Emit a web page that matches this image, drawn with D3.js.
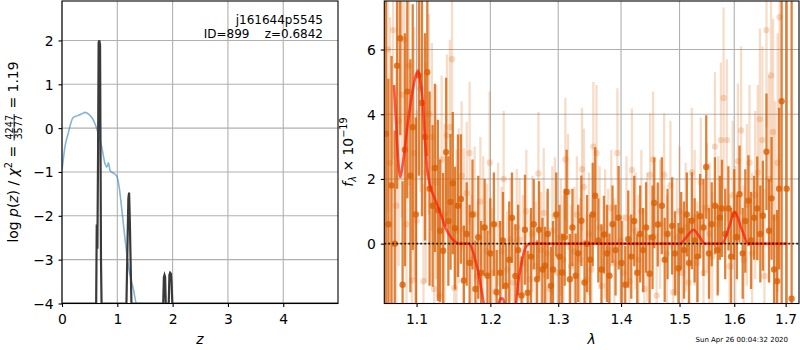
<!DOCTYPE html>
<html>
<head>
<meta charset="utf-8">
<script src="https://cdn.jsdelivr.net/npm/d3@7"></script>
<style>
  body { margin: 0; background: #fff; }
  svg text { font-family: "DejaVu Sans", sans-serif; fill: #000; }
</style>
</head>
<body>
<svg id="fig" width="800" height="350"></svg>
<script>
// ---- left panel: redshift PDF ----
const zTicks = [0, 1, 2, 3, 4];
const lnpTicks = [-4, -3, -2, -1, 0, 1, 2];

// log p(z), values below -4 fall off the axis
const pzZ   = [0, 0.600, 0.618, 0.628, 0.640, 0.652, 0.662, 0.675, 0.688, 0.697, 0.705, 0.715, 1.165, 1.185, 1.200, 1.213, 1.226, 1.240, 1.255, 1.830, 1.842, 1.853, 1.864, 1.876, 1.930, 1.942, 1.955, 1.968, 1.980, 1.995, 4.99];
const pzLog = [-8, -8, -4.2, -2.2, -2.75, -0.6, 1.95, 2.0, 1.9, -0.6, -3.0, -8, -8, -2.6, -1.6, -1.47, -2.1, -3.0, -8, -8, -3.4, -3.35, -3.4, -8, -8, -3.35, -3.3, -3.32, -3.5, -8, -8];

// chi2-based curve (blue)
const chiZ   = [0.0, 0.02, 0.05, 0.11, 0.20, 0.27, 0.35, 0.42, 0.48, 0.55, 0.60, 0.66, 0.72, 0.78, 0.81, 0.84, 0.87, 0.92, 0.99, 1.04, 1.08, 1.14, 1.20, 1.29, 1.35, 1.45];
const chiLog = [-0.95, -0.75, -0.45, -0.13, 0.24, 0.28, 0.32, 0.36, 0.32, 0.22, 0.09, -0.14, -0.44, -0.82, -0.89, -0.79, -0.97, -1.02, -1.09, -1.4, -1.84, -2.53, -3.14, -3.67, -4.02, -4.6];

const objName = "j161644p5545";
const objInfo = "ID=899    z=0.6842";
const chiNum = "4247", chiDen = "3577", chiRed = "1.19";

// ---- right panel: 1D spectrum ----
const lamTicks = [1.1, 1.2, 1.3, 1.4, 1.5, 1.6, 1.7];
const fluxTicks = [0, 2, 4, 6];

// [wavelength (um), flux (1e-19), error]
const darkPts = [
  [1.061, 3.4, 5.5], [1.064, 0.6, 4.5], [1.068, 1.8, 4.0], [1.072, 0.0, 3.5], [1.075, 5.5, 3.8],
  [1.079, 6.35, 3.0], [1.082, -1.27, 3.2], [1.085, 2.9, 3.6], [1.088, 4.7, 3.3], [1.092, 2.1, 3.6],
  [1.095, 3.6, 3.8], [1.099, 0.9, 3.0], [1.103, 5.2, 3.1], [1.107, 4.35, 3.5], [1.111, 3.3, 3.2],
  [1.114, 5.3, 2.6], [1.117, 1.7, 3.0], [1.121, 1.17, 2.5], [1.124, 2.34, 2.6], [1.128, 1.03, 2.8],
  [1.131, 0.4, 2.2], [1.135, -0.22, 2.4], [1.139, 2.83, 2.3], [1.142, 0.7, 2.0], [1.145, 1.29, 2.1],
  [1.148, 1.87, 2.2], [1.151, 0.48, 1.9], [1.155, 1.17, 2.2], [1.159, 1.38, 2.0], [1.163, -1.14, 1.7],
  [1.167, 0.3, 1.6], [1.171, -0.6, 1.8], [1.175, 0.9, 1.7], [1.179, -1.4, 1.5], [1.183, 0.2, 1.9],
  [1.187, -0.9, 1.6], [1.192, 0.5, 1.5], [1.196, -0.99, 1.4], [1.200, -0.3, 1.7], [1.205, 0.6, 1.6],
  [1.209, -1.5, 1.3], [1.214, -0.9, 1.6], [1.218, 0.1, 1.5], [1.222, -1.3, 1.3], [1.227, -0.5, 1.8],
  [1.231, 0.8, 1.4], [1.236, -1.0, 1.6], [1.240, -0.2, 1.4], [1.245, -1.6, 1.2], [1.250, 0.43, 1.7],
  [1.254, -1.52, 1.3], [1.259, -0.4, 1.5], [1.263, 0.6, 1.4], [1.268, -1.1, 1.2], [1.271, 0.43, 1.5],
  [1.276, -0.8, 1.6], [1.280, -0.68, 1.2], [1.284, 0.3, 1.4], [1.289, -1.3, 1.2], [1.292, -0.8, 1.5],
  [1.297, 0.9, 1.3], [1.302, -0.4, 1.6], [1.306, -0.89, 1.2], [1.310, 0.2, 1.5], [1.313, 1.6, 1.3],
  [1.318, -1.1, 1.4], [1.322, 0.5, 1.2], [1.327, -0.99, 1.3], [1.331, -0.3, 1.5], [1.336, 0.71, 1.4],
  [1.341, -1.2, 1.3], [1.345, 0.0, 1.5], [1.350, -0.5, 1.4], [1.354, 0.9, 1.6], [1.358, 1.48, 1.5],
  [1.363, 0.1, 1.3], [1.368, -0.8, 1.4], [1.372, 0.28, 1.2], [1.377, -0.3, 1.5], [1.381, -0.99, 1.3],
  [1.386, 0.6, 1.2], [1.391, -0.2, 1.4], [1.396, 0.8, 1.6], [1.401, -0.6, 1.3], [1.407, -1.27, 1.2],
  [1.412, 0.14, 1.5], [1.417, -0.4, 1.3], [1.422, 0.7, 1.4], [1.427, -0.9, 1.2], [1.432, 0.3, 1.5],
  [1.437, -0.2, 1.3], [1.442, 0.5, 1.4], [1.448, -0.93, 1.2], [1.453, 0.2, 1.6], [1.456, 1.26, 1.4],
  [1.462, 0.59, 1.3], [1.469, 1.17, 1.5], [1.474, -0.5, 1.3], [1.479, 0.3, 1.4], [1.487, 0.55, 1.5],
  [1.492, -0.3, 1.3], [1.498, -0.76, 1.4], [1.503, 0.4, 1.2], [1.508, -0.2, 1.5], [1.513, 0.9, 1.3],
  [1.517, -0.6, 1.4], [1.522, 0.71, 1.5], [1.527, 0.1, 1.3], [1.532, -0.4, 1.4], [1.537, 0.85, 1.3],
  [1.543, 0.5, 1.5], [1.548, 2.37, 1.6], [1.553, -0.3, 1.4], [1.558, 0.6, 1.3], [1.564, 1.17, 1.5],
  [1.569, -0.2, 1.4], [1.573, 0.8, 1.3], [1.577, 1.09, 1.5], [1.583, 0.3, 1.4], [1.589, 1.09, 1.3],
  [1.594, -0.4, 1.5], [1.600, 0.9, 1.4], [1.605, 0.2, 1.3], [1.610, 1.53, 1.5], [1.616, -0.3, 1.4],
  [1.621, 0.7, 1.6], [1.627, 1.33, 1.4], [1.632, 0.1, 1.5], [1.638, 0.8, 1.3], [1.644, 1.09, 1.6],
  [1.650, 0.3, 1.5], [1.655, 0.86, 1.7], [1.662, 2.84, 1.8], [1.667, 0.4, 1.6], [1.672, 1.4, 1.9],
  [1.677, -0.8, 1.7], [1.683, -1.16, 2.2], [1.687, 1.7, 2.5], [1.692, 4.4, 8.0], [1.702, 1.7, 10],
  [1.712, -1.7, 12]
];

const lightPts = [
  [1.063, 6.0, 5.0], [1.066, 2.5, 4.5], [1.070, 6.6, 4.0], [1.074, 1.17, 4.2], [1.077, 3.8, 4.5],
  [1.081, 4.6, 3.8], [1.084, 6.3, 3.5], [1.087, 0.6, 3.5], [1.090, 5.5, 3.7], [1.094, -1.14, 3.2],
  [1.097, 2.8, 3.9], [1.100, 0.72, 3.4], [1.105, 4.8, 3.2], [1.109, -1.16, 3.0], [1.112, 2.2, 3.4],
  [1.116, 4.0, 3.1], [1.120, 3.3, 2.9], [1.123, -1.4, 2.8], [1.126, 1.9, 3.0], [1.130, -1.6, 2.6],
  [1.133, 2.6, 2.6], [1.137, 0.9, 2.8], [1.140, 3.35, 2.5], [1.144, 3.6, 2.7], [1.147, 5.7, 2.4],
  [1.150, -1.37, 2.6], [1.153, 0.4, 2.5], [1.156, 1.17, 2.4], [1.160, 2.1, 2.3], [1.163, 0.45, 2.5],
  [1.167, 1.56, 2.2], [1.171, 2.8, 2.2], [1.174, -0.5, 2.0], [1.178, 0.9, 2.1], [1.182, -1.0, 2.3],
  [1.186, 1.3, 2.0], [1.190, 0.5, 2.2], [1.195, -0.24, 2.1], [1.199, 2.5, 2.2], [1.203, -0.9, 2.0],
  [1.207, -1.47, 2.1], [1.211, 0.6, 1.9], [1.216, -0.24, 2.0], [1.219, 2.0, 2.1], [1.224, -0.8, 1.8],
  [1.229, 0.12, 1.9], [1.233, -1.2, 2.0], [1.238, 0.5, 1.8], [1.242, 0.12, 1.9], [1.247, -0.6, 2.1],
  [1.252, 1.0, 1.9], [1.257, -1.1, 2.0], [1.261, 0.3, 1.8], [1.266, -0.7, 2.0], [1.270, 2.17, 1.9],
  [1.274, -0.2, 1.8], [1.278, 0.95, 2.0], [1.283, -0.3, 1.9], [1.287, -1.4, 1.8], [1.291, 0.4, 2.0],
  [1.295, 0.86, 1.8], [1.299, -0.9, 1.9], [1.304, 0.2, 1.8], [1.308, -0.5, 2.0], [1.311, 2.6, 1.9],
  [1.315, 1.6, 1.8], [1.320, -0.7, 1.9], [1.325, -0.24, 2.0], [1.329, 0.9, 1.8], [1.334, -0.5, 1.9],
  [1.337, 2.3, 1.9], [1.340, 1.75, 1.8], [1.344, -1.1, 2.0], [1.348, 0.3, 1.9], [1.352, -0.8, 1.8],
  [1.355, 3.0, 2.0], [1.360, 2.8, 2.1], [1.365, 0.5, 1.9], [1.369, -1.3, 1.8], [1.374, 0.3, 2.0],
  [1.379, -0.2, 1.9], [1.384, 1.1, 1.8], [1.389, -0.6, 2.0], [1.394, 2.8, 2.0], [1.399, 0.1, 1.9],
  [1.404, -0.9, 1.8], [1.409, 0.8, 1.9], [1.414, -1.16, 2.0], [1.418, 2.28, 1.9], [1.424, 0.4, 1.8],
  [1.429, -0.5, 2.0], [1.434, 1.0, 1.9], [1.439, -1.4, 1.8], [1.444, 0.2, 2.0], [1.449, 2.13, 1.9],
  [1.454, 2.6, 2.1], [1.460, -1.6, 1.9], [1.466, 0.6, 2.0], [1.473, 2.13, 1.9], [1.478, -0.3, 1.8],
  [1.484, 1.8, 2.0], [1.489, -1.5, 1.9], [1.495, 0.2, 1.8], [1.500, 1.0, 2.0], [1.505, -0.9, 1.9],
  [1.511, 0.5, 2.0], [1.516, -1.2, 1.9], [1.522, 2.2, 2.0], [1.527, 0.8, 2.1], [1.532, -0.6, 1.9],
  [1.538, 1.9, 2.0], [1.543, -0.9, 2.1], [1.549, 1.1, 2.0], [1.554, 0.3, 2.2], [1.559, -0.4, 2.0],
  [1.564, 3.0, 2.3], [1.570, 0.6, 2.1], [1.575, 3.2, 2.4], [1.580, 4.5, 2.8], [1.586, 3.2, 2.5],
  [1.591, -0.7, 2.2], [1.597, 1.5, 2.3], [1.602, 0.2, 2.2], [1.607, 2.55, 2.4], [1.613, 3.5, 2.6],
  [1.618, -0.5, 2.3], [1.624, 1.2, 2.5], [1.629, 2.5, 2.4], [1.634, -0.3, 2.5], [1.640, 1.5, 2.6],
  [1.645, 2.2, 2.7], [1.649, 3.85, 2.8], [1.654, 3.2, 2.9], [1.658, -1.0, 2.7], [1.662, 6.6, 3.0],
  [1.667, 2.0, 3.2], [1.671, 5.2, 3.3], [1.675, 3.45, 3.5], [1.679, 0.8, 3.6], [1.684, 2.5, 4.0],
  [1.688, 7.0, 5.0]
];

// best-fit model (red)
const modelWave = [1.071, 1.074, 1.077, 1.079, 1.083, 1.088, 1.094, 1.099, 1.102, 1.105, 1.108, 1.111, 1.114, 1.118, 1.122, 1.127, 1.133, 1.138, 1.143, 1.150, 1.156, 1.170, 1.175, 1.180, 1.185, 1.190, 1.195, 1.208, 1.214, 1.218, 1.224, 1.236, 1.240, 1.244, 1.248, 1.252, 1.258, 1.501, 1.513, 1.525, 1.536, 1.546, 1.577, 1.590, 1.601, 1.614, 1.627, 1.703];
const modelFlux = [4.9, 3.6, 2.4, 2.05, 2.6, 3.6, 4.6, 5.2, 5.35, 5.0, 4.4, 3.2, 2.3, 1.75, 1.5, 1.2, 0.84, 0.5, 0.28, 0.08, 0.0, 0.0, -0.2, -0.6, -1.1, -1.75, -2.2, -2.2, -1.7, -1.7, -2.2, -2.0, -1.2, -0.7, -0.3, -0.08, 0.0, 0.0, 0.22, 0.43, 0.2, 0.0, 0.0, 0.5, 0.98, 0.45, 0.0, 0.0];

const stamp = "Sun Apr 26 00:04:32 2020";

// ---------------------------------------------------------------
const svg = d3.select("#fig");
const FS = 13.9;
const gridColor = "#b0b0b0";
const spec = "#d95f02";

const L = { x0: 62, x1: 338, y0: 1, y1: 303.5 };
const R = { x0: 384.3, x1: 799, y0: 1, y1: 303.5 };

const xz = d3.scaleLinear().domain([0, 4.99]).range([L.x0, L.x1]);
const yz = d3.scaleLinear().domain([-4, 2.9]).range([L.y1, L.y0]).clamp(true);
const xl = d3.scaleLog().domain([1.0589, 1.727]).range([R.x0, R.x1]);
const yf = d3.scaleLinear().domain([-1.85, 7.5]).range([R.y1, R.y0]);

const defs = svg.append("defs");
[["clipL", L], ["clipR", R]].forEach(([id, b]) => {
  defs.append("clipPath").attr("id", id).append("rect")
    .attr("x", b.x0).attr("y", b.y0).attr("width", b.x1 - b.x0).attr("height", b.y1 - b.y0);
});

function grid(b, xs, ys, xv, yv) {
  const g = svg.append("g").attr("stroke", gridColor).attr("stroke-width", 1.1);
  g.selectAll(".gx").data(xv).enter().append("line")
    .attr("x1", (d) => xs(d)).attr("x2", (d) => xs(d)).attr("y1", b.y0).attr("y2", b.y1);
  g.selectAll(".gy").data(yv).enter().append("line")
    .attr("x1", b.x0).attr("x2", b.x1).attr("y1", (d) => ys(d)).attr("y2", (d) => ys(d));
}

function axes(b, xs, ys, xv, yv, xfmt, yfmt) {
  const ax = svg.append("g").attr("transform", `translate(0,${b.y1})`)
    .call(d3.axisBottom(xs).tickValues(xv).tickSize(3.5).tickPadding(7).tickFormat(xfmt));
  const ay = svg.append("g").attr("transform", `translate(${b.x0},0)`)
    .call(d3.axisLeft(ys).tickValues(yv).tickSize(3.5).tickPadding(4.9).tickFormat(yfmt));
  [ax, ay].forEach((a) => {
    a.select(".domain").remove();
    a.selectAll("line").attr("stroke", "#000").attr("stroke-width", 1.1);
    a.selectAll("text").attr("font-size", FS).attr("font-family", "DejaVu Sans");
  });
  ay.selectAll("text").attr("dy", "0.36em");
  svg.append("rect").attr("x", b.x0).attr("y", b.y0)
    .attr("width", b.x1 - b.x0).attr("height", b.y1 - b.y0)
    .attr("fill", "none").attr("stroke", "#000").attr("stroke-width", 1.1);
}

// ---- left panel ----
grid(L, xz, yz, zTicks, lnpTicks);

const pL = svg.append("g").attr("clip-path", "url(#clipL)");
pL.append("path")
  .datum(d3.zip(chiZ, chiLog))
  .attr("fill", "none").attr("stroke", "#1f77b4").attr("stroke-opacity", 0.55).attr("stroke-width", 1.6)
  .attr("d", d3.line().x((d) => xz(d[0])).y((d) => yz(d[1])).curve(d3.curveMonotoneX));
pL.append("path")
  .datum(d3.zip(pzZ, pzLog))
  .attr("fill", "none").attr("stroke", "#3a3a3a").attr("stroke-width", 2.2)
  .attr("d", d3.line().x((d) => xz(d[0])).y((d) => yz(d[1])));

axes(L, xz, yz, zTicks, lnpTicks, d3.format("d"), d3.format("d"));

svg.append("text").attr("x", 323).attr("y", 24).attr("text-anchor", "end")
  .attr("font-size", 12).style("white-space", "pre").text(objName);
svg.append("text").attr("x", 323).attr("y", 38).attr("text-anchor", "end")
  .attr("font-size", 12).style("white-space", "pre").text(objInfo);

// ---- right panel ----
grid(R, xl, yf, lamTicks, fluxTicks);

const pR = svg.append("g").attr("clip-path", "url(#clipR)");

function errSeries(pts, alpha) {
  const g = pR.append("g");
  g.selectAll("line").data(pts).enter().append("line")
    .attr("x1", (d) => xl(d[0])).attr("x2", (d) => xl(d[0]))
    .attr("y1", (d) => yf(d[1] - d[2])).attr("y2", (d) => yf(d[1] + d[2]))
    .attr("stroke", spec).attr("stroke-opacity", alpha).attr("stroke-width", 2.3);
  g.selectAll("circle").data(pts).enter().append("circle")
    .attr("cx", (d) => xl(d[0])).attr("cy", (d) => yf(d[1])).attr("r", 3.2)
    .attr("fill", spec).attr("fill-opacity", alpha);
}
errSeries(lightPts, 0.22);
errSeries(darkPts, 0.78);

pR.append("path")
  .datum(d3.zip(modelWave, modelFlux))
  .attr("fill", "none").attr("stroke", "#ff1a0a").attr("stroke-opacity", 0.72).attr("stroke-width", 2.6)
  .attr("d", d3.line().x((d) => xl(d[0])).y((d) => yf(d[1])).curve(d3.curveMonotoneX));

pR.append("line")
  .attr("x1", R.x0).attr("x2", R.x1).attr("y1", yf(0)).attr("y2", yf(0))
  .attr("stroke", "#000").attr("stroke-opacity", 0.85).attr("stroke-width", 1.8)
  .attr("stroke-dasharray", "1.8,2.2");

axes(R, xl, yf, lamTicks, fluxTicks, d3.format(".1f"), d3.format("d"));

// ---- axis labels ----
svg.append("text").attr("x", (L.x0 + L.x1) / 2).attr("y", 344).attr("text-anchor", "middle")
  .attr("font-size", FS).attr("font-style", "italic").text("z");
svg.append("text").attr("x", (R.x0 + R.x1) / 2).attr("y", 344).attr("text-anchor", "middle")
  .attr("font-size", FS).attr("font-style", "italic").text("λ");

// left y label with stacked fraction
const yl = svg.append("g").attr("transform", "translate(17.5,152) rotate(-90)");
const inner = yl.append("g");
const t1 = inner.append("text").attr("font-size", FS).style("white-space", "pre");
t1.append("tspan").text("log ");
t1.append("tspan").attr("font-style", "italic").text("p");
t1.append("tspan").text("(");
t1.append("tspan").attr("font-style", "italic").text("z");
t1.append("tspan").text(") / ");
t1.append("tspan").attr("font-style", "italic").text("χ");
t1.append("tspan").attr("font-size", FS * 0.7).attr("dy", -5.5).text("2");
t1.append("tspan").attr("dy", 5.5).text(" = ");
const w1 = t1.node().getComputedTextLength();
const num = inner.append("text").attr("font-size", 9.7).attr("y", -4.6).text(chiNum);
const den = inner.append("text").attr("font-size", 9.7).attr("y", 4.6).text(chiDen);
const fw = Math.max(num.node().getComputedTextLength(), den.node().getComputedTextLength()) + 2;
num.attr("x", w1 + 1 + (fw - num.node().getComputedTextLength()) / 2);
den.attr("x", w1 + 1 + (fw - den.node().getComputedTextLength()) / 2);
inner.append("line").attr("x1", w1 + 1).attr("x2", w1 + 1 + fw)
  .attr("y1", -3.4).attr("y2", -3.4).attr("stroke", "#000").attr("stroke-width", 0.8);
const t2 = inner.append("text").attr("font-size", FS).attr("x", w1 + fw + 2)
  .style("white-space", "pre").text(" = " + chiRed);
const total = w1 + fw + 2 + t2.node().getComputedTextLength();
inner.attr("transform", `translate(${-total / 2},0)`);

// right y label
const yr = svg.append("text").attr("transform", "translate(352.5,152) rotate(-90)")
  .attr("text-anchor", "middle").attr("font-size", FS).style("white-space", "pre");
yr.append("tspan").attr("font-style", "italic").text("f");
yr.append("tspan").attr("font-style", "italic").attr("font-size", FS * 0.7).attr("dy", 3).text("λ");
yr.append("tspan").attr("dy", -3).text(" × 10");
yr.append("tspan").attr("font-size", FS * 0.7).attr("dy", -5.5).text("−19");

svg.append("text").attr("x", 788).attr("y", 342).attr("text-anchor", "end")
  .attr("font-size", 7).text(stamp);
</script>
</body>
</html>
